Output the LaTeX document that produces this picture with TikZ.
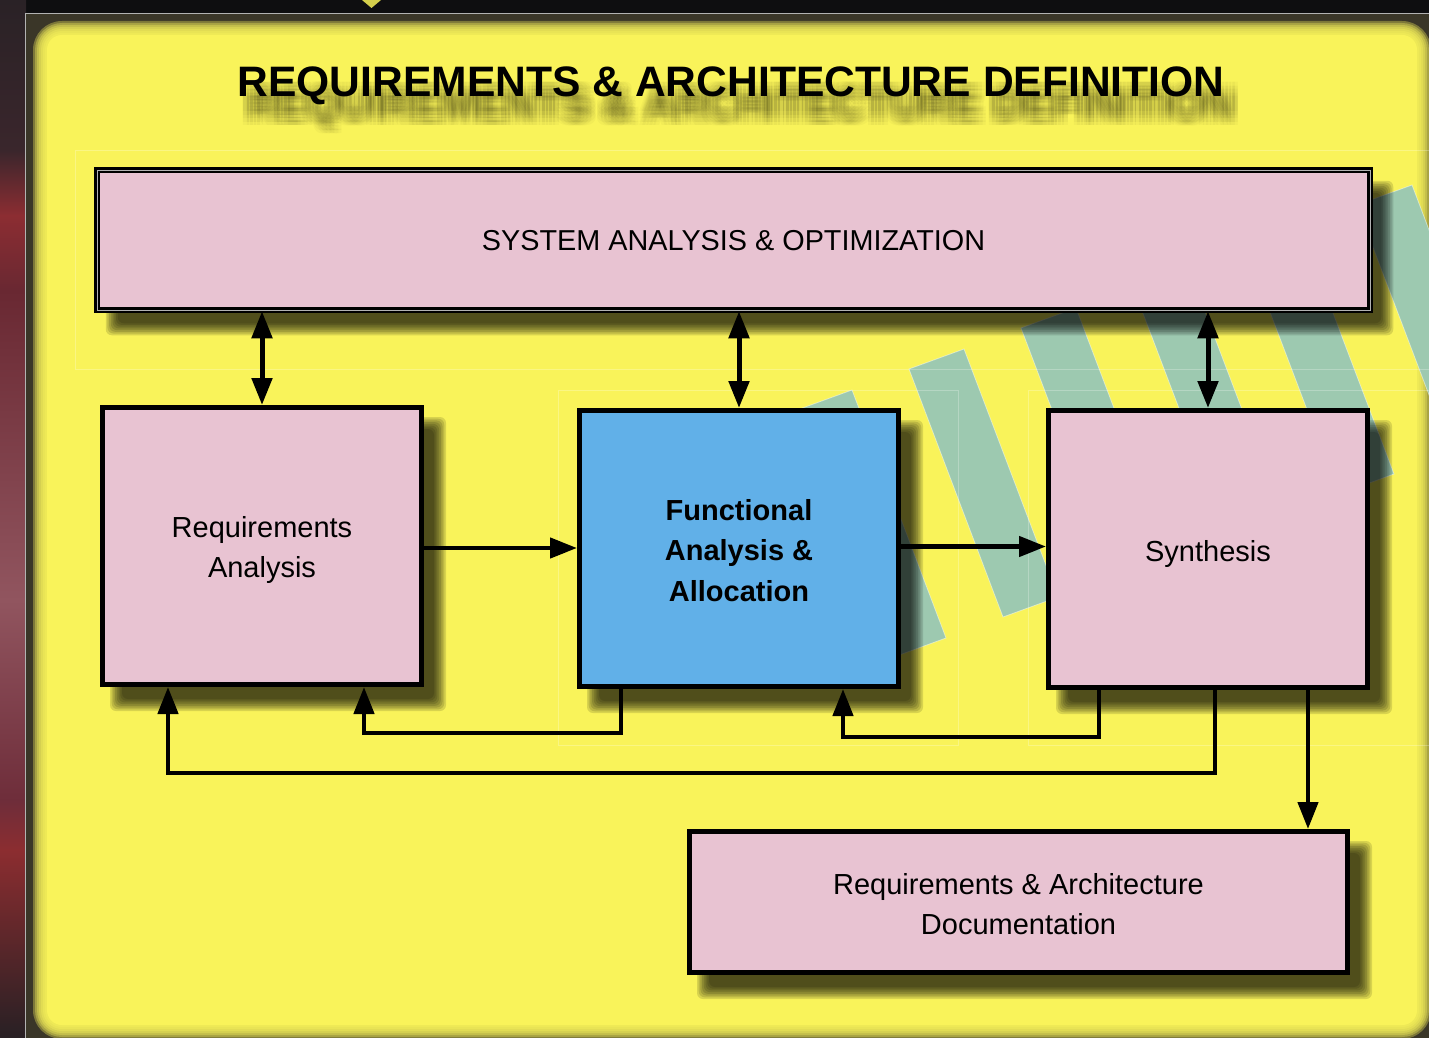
\documentclass[tikz,border=0pt]{standalone}
\usepackage{fontspec}
\setmainfont{Liberation Sans}
\usetikzlibrary{arrows.meta,calc}
\definecolor{panelyellow}{RGB}{249,243,90}
\definecolor{boxpink}{RGB}{232,195,210}
\definecolor{boxblue}{RGB}{97,176,232}
\definecolor{stripeteal}{RGB}{157,201,176}
\definecolor{framedark}{RGB}{58,54,40}
\definecolor{topdark}{RGB}{14,14,16}
\definecolor{lsA}{RGB}{42,34,38}
\definecolor{lsB}{RGB}{58,38,44}
\definecolor{lsC}{RGB}{140,45,50}
\definecolor{lsD}{RGB}{105,40,50}
\definecolor{lsE}{RGB}{145,85,95}
\definecolor{lsF}{RGB}{110,45,58}
\definecolor{lsG}{RGB}{140,45,48}
\definecolor{lsH}{RGB}{40,32,36}
\pgfdeclarelayer{bg}
\pgfdeclarelayer{shad}
\pgfsetlayers{bg,shad,main}
\newcommand\bxfont{\fontsize{29}{40.5}\selectfont}
\newcommand\ttlfont{\fontsize{42.6}{50}\selectfont\bfseries}
\newcommand\ttltext{REQUIREMENTS \& ARCHITECTURE DEFINITION}
\newcommand\dropshadow[1]{%
  \foreach \i in {0,...,7}{%
    \fill[black, opacity=0.13, rounded corners=6]
      ($(#1.north west)+({10+12*\i/7},{12+12*\i/7})$) rectangle
      ($(#1.south east)+({22-12*\i/7},{24-12*\i/7})$);
  }}
\tikzset{
  box/.style={draw=black, line width=5pt, fill=boxpink, inner sep=0pt},
  sysbox/.style={box, line width=2.5pt, double=gray!60, double distance=1pt},
  boxtext/.style={align=center, font=\bxfont, text=black, inner sep=0pt},
  ttlshadow/.style={anchor=base, inner sep=0pt, font=\ttlfont, text=black, text opacity=0.028},
  conn/.style={line width=4.5pt, -{Triangle[length=27pt,width=20pt]}},
  bidir/.style={line width=5pt, {Triangle[length=27pt,width=20pt]}-{Triangle[length=27pt,width=20pt]}},
  stripe/.style={fill=stripeteal, draw=white, draw opacity=0.45, line width=0.8pt},
  faint/.style={draw=white, opacity=0.25, line width=0.8pt}
}
\begin{document}
\begin{tikzpicture}[x=1pt,y=-1pt]
\useasboundingbox (0,0) rectangle (1429,1038);
\begin{pgfonlayer}{bg}
  % dark surroundings
  \fill[topdark] (0,0) rectangle (1429,14);
  \shade[top color=lsA, bottom color=lsB] (0,0) rectangle (26,151);
  \shade[top color=lsB, bottom color=lsC] (0,150) rectangle (26,216);
  \shade[top color=lsC, bottom color=lsD] (0,215) rectangle (26,291);
  \shade[top color=lsD, bottom color=lsE] (0,290) rectangle (26,601);
  \shade[top color=lsE, bottom color=lsF] (0,600) rectangle (26,801);
  \shade[top color=lsF, bottom color=lsG] (0,800) rectangle (26,851);
  \shade[top color=lsG, bottom color=lsH] (0,850) rectangle (26,1038);
  \fill[panelyellow!85!black] (362,0) -- (381,0) -- (371.5,8) -- cycle;
  \fill[framedark] (26,13) rectangle (1429,1038);
  \draw[gray!60, line width=0.8pt] (25.5,1038) -- (25.5,13.5) -- (1429,13.5);
  % yellow panel with soft edge
  \foreach \i in {0,...,7}{%
    \fill[panelyellow, opacity=0.35, rounded corners={29-2*\i}]
      ({33+2*\i},{21+2*\i}) rectangle ({1431-2*\i},{1039-2*\i});
  }
  \fill[panelyellow, rounded corners=15] (47,35) rectangle (1417,1025);
  % diagonal stripes
  \foreach \k in {0,...,5}{%
    \filldraw[stripe] ({797+112*\k},{410-41*\k}) -- ++(55,-20) -- ++(94,248) -- ++(-55,20) -- cycle;
  }
  % faint group outlines
  \draw[faint] (75,150) rectangle (1440,369);
  \draw[faint] (558,390) rectangle (958,745);
  \draw[faint] (1028,390) rectangle (1440,745);
\end{pgfonlayer}

% title
\node[anchor=base, font=\ttlfont, text=black, inner sep=0pt] (title) at (731,97) {\ttltext};
% blurred title shadow
\begin{pgfonlayer}{shad}
  \foreach \dx in {-7,-3.5,0,3.5,7}{%
    \foreach \dy in {-7,-3.5,0,3.5,7}{%
      \node[ttlshadow] at ({741+\dx},{119+\dy}) {\ttltext};
    }}
\end{pgfonlayer}

% boxes
\node[sysbox, minimum width=1273, minimum height=140] (sys) at (733.5,240) {};
\node[box, minimum width=319, minimum height=277] (req) at (262,546) {};
\node[box, fill=boxblue, minimum width=319, minimum height=276] (fa) at (739,548.5) {};
\node[box, minimum width=319, minimum height=277] (syn) at (1208,549) {};
\node[box, minimum width=658, minimum height=141] (doc) at (1018.5,902) {};

% box texts
\node[boxtext, font=\fontsize{28.8}{40}\selectfont] (systxt) at ($(sys.center)+(0,1)$) {SYSTEM ANALYSIS \& OPTIMIZATION};
\node[boxtext] (reqtxt) at ($(req.center)+(0,4)$) {Requirements\\Analysis};
\node[boxtext, font=\bxfont\bfseries] (fatxt) at ($(fa.center)+(0,2)$) {Functional\\Analysis \&\\Allocation};
\node[boxtext] (syntxt) at ($(syn.center)+(0,5)$) {Synthesis};
\node[boxtext] (doctxt) at ($(doc.center)+(0,2)$) {Requirements \& Architecture\\Documentation};

\begin{pgfonlayer}{shad}
  \dropshadow{sys}
  \dropshadow{req}
  \dropshadow{fa}
  \dropshadow{syn}
  \dropshadow{doc}
\end{pgfonlayer}

% connectors
\draw[bidir] (req.north |- sys.south) -- (req.north);
\draw[bidir] (fa.north |- sys.south) -- (fa.north);
\draw[bidir] (syn.north |- sys.south) -- (syn.north);
\coordinate (ra) at ($(req.east)+(0,2)$);
\draw[conn] (ra) -- (ra -| fa.west);
\coordinate (fs) at ($(fa.east)+(0,-2)$);
\draw[conn] (fs) -- (fs -| syn.west);
\draw[conn] ($(fa.south west)+(44,0)$) -- ++(0,44) -| ($(req.south west)+(264,0)$);
\draw[conn] ($(syn.south west)+(53,0)$) -- ++(0,47) -| ($(fa.south west)+(266,0)$);
\draw[conn] ($(syn.south west)+(169,0)$) -- ++(0,83) -| ($(req.south west)+(68,0)$);
\coordinate (outA) at ($(syn.south west)+(262,0)$);
\draw[conn] (outA) -- (outA |- doc.north);
\end{tikzpicture}
\end{document}
